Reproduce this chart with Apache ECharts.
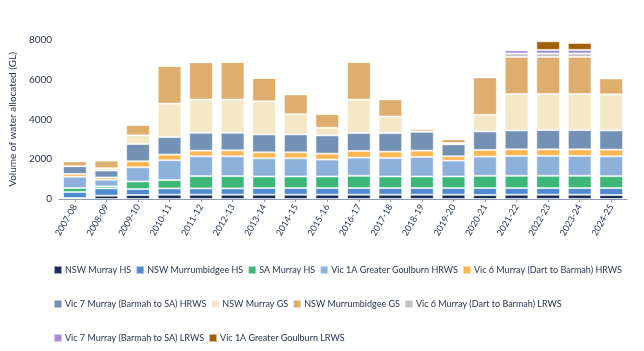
<!DOCTYPE html>
<html>
<head>
<meta charset="utf-8">
<script src="https://cdn.jsdelivr.net/npm/echarts@6/dist/echarts.min.js"></script>
<style>
  html, body { margin: 0; padding: 0; background: #fff; }
  #chart { width: 644px; height: 351px; }
</style>
</head>
<body>
<div id="chart"></div>
<script>
const years = ['2007-08','2008-09','2009-10','2010-11','2011-12','2012-13','2013-14','2014-15','2015-16',
  '2016-17','2017-18','2018-19','2019-20','2020-21','2021-22','2022-23','2023-24','2024-25'];

const seriesNames = ['NSW Murray HS','NSW Murrumbidgee HS','SA Murray HS','Vic 1A Greater Goulburn HRWS',
  'Vic 6 Murray (Dart to Barmah) HRWS','Vic 7 Murray (Barmah to SA) HRWS','NSW Murray GS','NSW Murrumbidgee GS',
  'Vic 6 Murray (Dart to Barmah) LRWS','Vic 7 Murray (Barmah to SA) LRWS','Vic 1A Greater Goulburn LRWS'];

const colors = ['#1b2f57','#4f89cf','#3cb777','#8eb1dc','#fdb652','#7391b4','#f5e8c6','#ddae6e',
  '#c0c0c0','#a78bd6','#a0600a'];

// values in GL
const nswMurrayHS       = [50,167,200,217,217,217,217,217,217,217,217,217,217,200,217,217,217,200];
const nswMurrumbidgeeHS = [300,367,300,317,317,317,333,333,333,333,333,333,333,350,333,333,333,350];
const saMurrayHS        = [200,100,383,417,617,617,583,583,583,617,583,583,583,617,617,617,617,600];
const vic1aHRWS         = [570,333,717,1000,1000,1000,917,917,850,917,933,983,800,967,1000,1000,1000,1000];
const vic6HRWS          = [140,117,300,283,283,300,300,300,300,333,317,317,217,333,333,333,333,333];
const vic7HRWS          = [390,350,867,883,900,883,900,900,917,900,933,950,600,933,950,967,967,967];
const nswMurrayGS       = [0,117,433,1683,1667,1667,1667,1017,383,1683,833,20,67,833,1833,1817,1817,1817];
const nswMurrumbidgeeGS = [250,383,533,1900,1883,1900,1183,1000,700,1900,867,133,200,1883,1867,1867,1867,800];
const vic6LRWS          = [0,0,0,0,0,0,0,0,0,0,0,0,0,0,167,167,167,0];
const vic7LRWS          = [0,0,0,0,0,0,0,0,0,0,0,0,0,0,167,183,183,0];
const vic1aLRWS         = [0,0,0,0,0,0,0,0,0,0,0,0,0,0,0,433,350,0];

const yTicks = [0, 2000, 4000, 6000, 8000];

const allData = [nswMurrayHS, nswMurrumbidgeeHS, saMurrayHS, vic1aHRWS, vic6HRWS, vic7HRWS,
  nswMurrayGS, nswMurrumbidgeeGS, vic6LRWS, vic7LRWS, vic1aLRWS];

const chart = echarts.init(document.getElementById('chart'));
const font = 'Lato, "Open Sans", sans-serif';
const darkText = '#243252';

// legend rows, left aligned like the original
const legendRows = [[0,1,2,3,4],[5,6,7,8],[9,10]];
const legendTops = [260, 294, 328];
const legends = legendRows.map((row, i) => ({
  left: 48,
  top: legendTops[i],
  orient: 'horizontal',
  itemWidth: 8,
  itemHeight: 8,
  itemGap: 4,
  icon: 'rect',
  textStyle: { fontFamily: font, fontSize: 9, color: '#2b3550', padding: [0, 0, 0, -2] },
  data: row.map(k => seriesNames[k])
}));

const option = {
  animation: false,
  color: colors,
  legend: legends,
  grid: { left: 47, right: 17, top: 40, bottom: 152, containLabel: false },
  xAxis: {
    type: 'category',
    data: years,
    axisTick: { show: true, alignWithLabel: true, length: 3, lineStyle: { color: '#8d9bb3' } },
    axisLine: { lineStyle: { color: '#8d9bb3', width: 1 } },
    axisLabel: { rotate: 60, fontFamily: font, fontSize: 9, color: darkText, margin: 6, interval: 0 }
  },
  yAxis: {
    type: 'value',
    min: yTicks[0],
    max: yTicks[yTicks.length - 1],
    interval: 2000,
    name: 'Volume of water allocated (GL)',
    nameLocation: 'middle',
    nameGap: 33,
    nameTextStyle: { fontFamily: font, fontSize: 10, color: darkText },
    splitLine: { show: false },
    axisLine: { show: false },
    axisTick: { show: false },
    axisLabel: { fontFamily: font, fontSize: 10, color: darkText, margin: 7, formatter: v => String(v) }
  },
  series: allData.map((d, i) => ({
    name: seriesNames[i],
    type: 'bar',
    stack: 'total',
    barCategoryGap: '25%',
    data: d,
    itemStyle: { borderColor: 'rgba(255,255,255,0.55)', borderWidth: 1 }
  }))
};

chart.setOption(option);
</script>
</body>
</html>
